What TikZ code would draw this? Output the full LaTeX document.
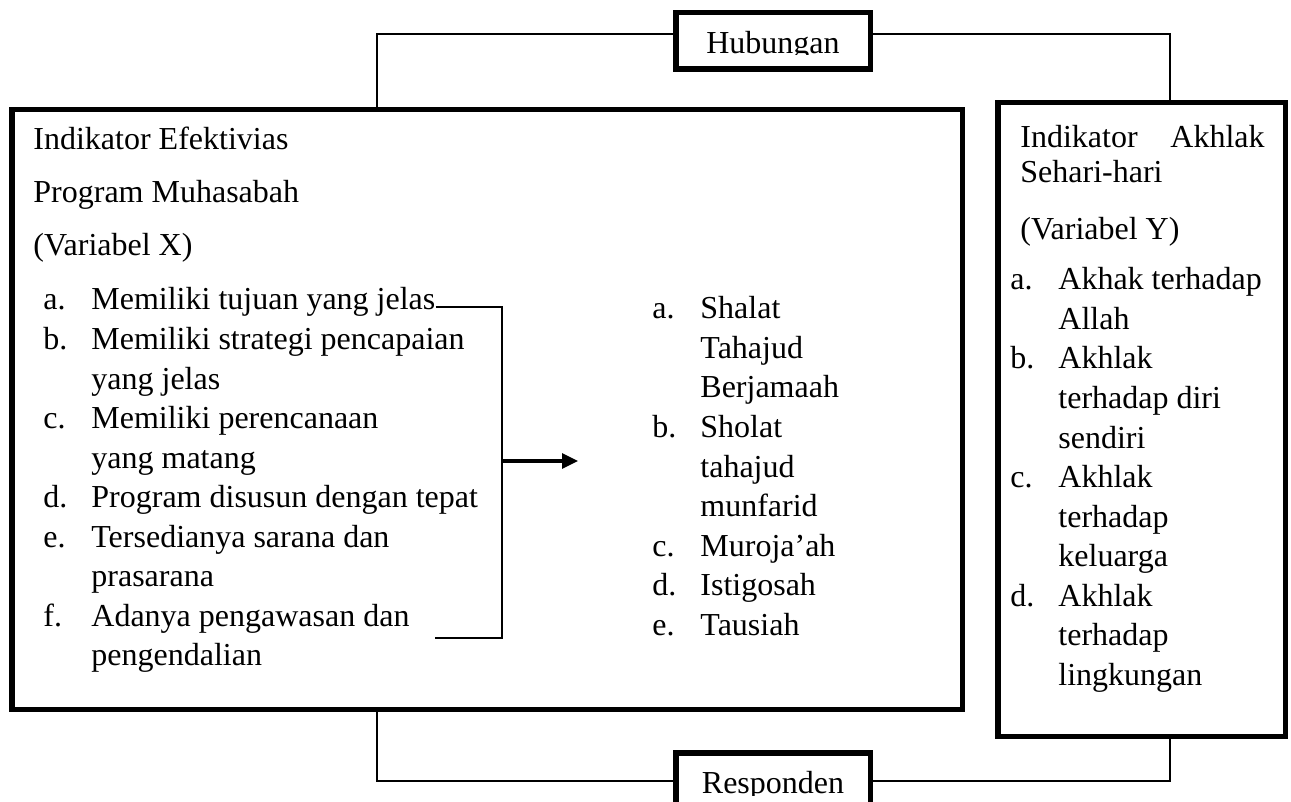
\documentclass[tikz,border=0pt]{standalone}
\usepackage{fontspec}
\setmainfont{Liberation Serif}
\usetikzlibrary{arrows.meta}

\begin{document}
\begin{tikzpicture}[x=0.5pt,y=-0.5pt,
	every node/.style={font=\fontsize{16}{19.75}\selectfont, inner sep=0pt},
	txt/.style={anchor=base west},
	frame/.style={draw, line width=2.75pt},
	link/.style={line width=0.8pt},
	bracket/.style={line width=1.1pt},
	arrow/.style={line width=1.6pt, -{Triangle[length=8pt,width=7.5pt]}}]
			\useasboundingbox (0,0) rectangle (1291,802);
			
			% Frames
			\node[frame, minimum width=475.25pt, minimum height=299.75pt] (xbox) at (487,409.5) {};
			\node[frame, minimum width=143.75pt, minimum height=316.75pt] (ybox) at (1141.5,419.5) {};
			\node[frame, minimum width=97.25pt, minimum height=28.25pt] (hub) at (773,41) {};
			\node[frame, minimum width=97.25pt, minimum height=28.25pt] (resp) at (773,781) {};
			
			% Labels of the small boxes
			\begin{scope}
				\clip (675.75,12.75) rectangle (870.25,55);
				\node[anchor=base] (hubtxt) at (773,54) {Hubungan};
			\end{scope}
			\begin{scope}
				\clip (675.75,753) rectangle (870.25,795);
				\node[anchor=base] (resptxt) at (773,793) {Responden};
			\end{scope}
			
			% Links between the boxes
			\coordinate (xcol) at (377,0);
			\coordinate (ycol) at (1170,0);
			\coordinate (toprow) at (0,34);
			\draw[link] (hub.west |- toprow) -| (xcol |- xbox.north);
			\draw[link] (hub.east |- toprow) -| (ycol |- ybox.north);
			\draw[link] (xcol |- xbox.south) |- (resp.west);
			\draw[link] (resp.east) -| (ycol |- ybox.south);
			
			% Variabel X
			\node[txt] (xh1) at (33,150) {Indikator Efektivias};
			\node[txt] (xh2) at (33,203) {Program Muhasabah};
			\node[txt] (xh3) at (33,256) {(Variabel X)};
			\node[txt] (xla) at (43,310) {a.};
			\node[txt] (xa) at (91,310) {Memiliki tujuan yang jelas};
			\node[txt] (xlb) at (43,349.5) {b.};
			\node[txt] (xb1) at (91,349.5) {Memiliki strategi pencapaian};
			\node[txt] (xb2) at (91,389) {yang jelas};
			\node[txt] (xlc) at (43,428.5) {c.};
			\node[txt] (xc1) at (91,428.5) {Memiliki perencanaan};
			\node[txt] (xc2) at (91,468) {yang matang};
			\node[txt] (xld) at (43,507.5) {d.};
			\node[txt] (xd) at (91,507.5) {Program disusun dengan tepat};
			\node[txt] (xle) at (43,547) {e.};
			\node[txt] (xe1) at (91,547) {Tersedianya sarana dan};
			\node[txt] (xe2) at (91,586.5) {prasarana};
			\node[txt] (xlf) at (43,626) {f.};
			\node[txt] (xf1) at (91,626) {Adanya pengawasan dan};
			\node[txt] (xf2) at (91,665.5) {pengendalian};
			
			% Bracket and arrow
			\coordinate (brtop) at (502,307);
			\coordinate (brbot) at (502,638);
			\coordinate (brend) at (435,638);
			\coordinate (brmid) at (502,461);
			\coordinate (arrtip) at (578,461);
			\draw[bracket] (xa.base east |- brtop) -- (brtop) -- (brbot) -- (brend);
			\draw[arrow] (brmid) -- (arrtip);
			
			% Kegiatan
			\node[txt] (mla) at (652,319) {a.};
			\node[txt] (ma1) at (700,319) {Shalat};
			\node[txt] (ma2) at (700,358.5) {Tahajud};
			\node[txt] (ma3) at (700,398) {Berjamaah};
			\node[txt] (mlb) at (652,437.5) {b.};
			\node[txt] (mb1) at (700,437.5) {Sholat};
			\node[txt] (mb2) at (700,477) {tahajud};
			\node[txt] (mb3) at (700,516.5) {munfarid};
			\node[txt] (mlc) at (652,556) {c.};
			\node[txt] (mc) at (700,556) {Muroja’ah};
			\node[txt] (mld) at (652,595.5) {d.};
			\node[txt] (md) at (700,595.5) {Istigosah};
			\node[txt] (mle) at (652,635) {e.};
			\node[txt] (me) at (700,635) {Tausiah};
			
			% Variabel Y
			\node[txt] (yh1) at (1020,148) {Indikator};
			\node[anchor=base east] (yh2) at (1265,148) {Akhlak};
			\node[txt] (yh3) at (1020,183) {Sehari-hari};
			\node[txt] (yh4) at (1020,240) {(Variabel Y)};
			\node[txt] (yla) at (1010,290) {a.};
			\node[txt] (ya1) at (1058,290) {Akhak terhadap};
			\node[txt] (ya2) at (1058,329.5) {Allah};
			\node[txt] (ylb) at (1010,369) {b.};
			\node[txt] (yb1) at (1058,369) {Akhlak};
			\node[txt] (yb2) at (1058,408.5) {terhadap diri};
			\node[txt] (yb3) at (1058,448) {sendiri};
			\node[txt] (ylc) at (1010,487.5) {c.};
			\node[txt] (yc1) at (1058,487.5) {Akhlak};
			\node[txt] (yc2) at (1058,527) {terhadap};
			\node[txt] (yc3) at (1058,566.5) {keluarga};
			\node[txt] (yld) at (1010,606) {d.};
			\node[txt] (yd1) at (1058,606) {Akhlak};
			\node[txt] (yd2) at (1058,645.5) {terhadap};
			\node[txt] (yd3) at (1058,685) {lingkungan};
		\end{tikzpicture}
\end{document}
